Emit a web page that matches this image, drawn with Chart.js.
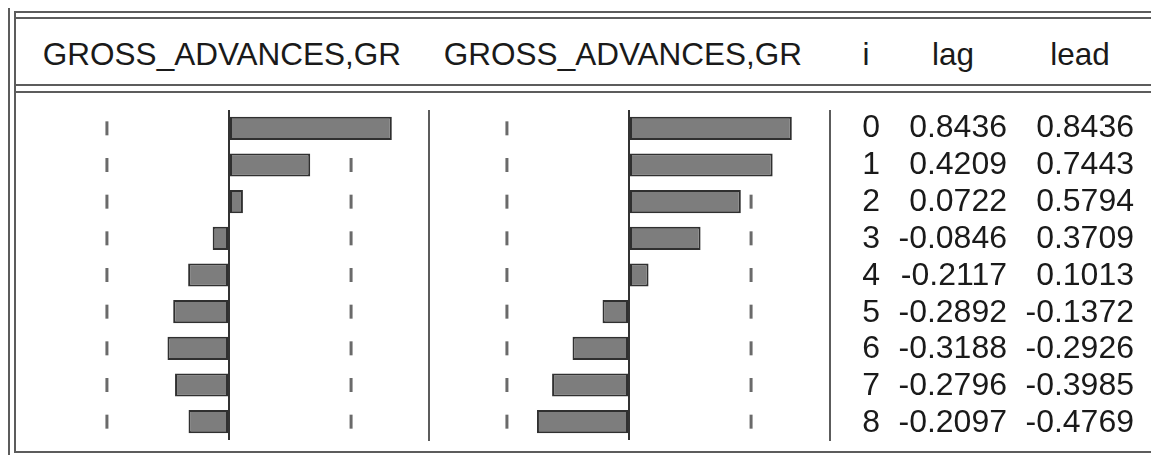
<!DOCTYPE html>
<html>
<head>
<meta charset="utf-8">
<script src="https://cdn.jsdelivr.net/npm/chart.js@4"></script>
<style>
body { margin: 0; background: #fff; }
#wrap { position: relative; width: 1151px; height: 455px; overflow: hidden; background: #fff;
        font-family: "Liberation Sans", Arial, sans-serif; color: #1a1a1a; }
.ln { position: absolute; background: #5c5c5c; }
canvas { position: absolute; top: 0; }
.hd { position: absolute; top: 36px; font-size: 31.5px; line-height: 36px; white-space: nowrap; text-align: center; }
.col { position: absolute; top: 108px; width: 160px; font-size: 32px; line-height: 36.9px; text-align: right; white-space: nowrap; }
</style>
</head>
<body>
<div id="wrap">
  <!-- frame -->
  <div class="ln" style="left:8px;top:8px;width:2px;height:447px"></div>
  <div class="ln" style="left:14px;top:12px;width:2px;height:441px"></div>
  <div class="ln" style="left:14px;top:11px;width:1137px;height:2px"></div>
  <div class="ln" style="left:14px;top:17px;width:1137px;height:2px"></div>
  <div class="ln" style="left:14px;top:84px;width:1137px;height:2px"></div>
  <div class="ln" style="left:14px;top:91px;width:1137px;height:2px"></div>
  <div class="ln" style="left:14px;top:451px;width:1137px;height:2px"></div>
  <div class="ln" style="left:428px;top:110px;width:2px;height:331px"></div>
  <div class="ln" style="left:829px;top:110px;width:2px;height:331px"></div>

  <div class="hd" style="left:22px;width:400px">GROSS_ADVANCES,GR</div>
  <div class="hd" style="left:423px;width:400px">GROSS_ADVANCES,GR</div>
  <div class="hd" style="left:846px;width:40px">i</div>
  <div class="hd" style="left:903px;width:100px">lag</div>
  <div class="hd" style="left:1030px;width:100px">lead</div>

  <canvas id="lagChart" width="414" height="455" style="left:15px"></canvas>
  <canvas id="leadChart" width="401" height="455" style="left:429px"></canvas>

  <div class="col" id="colI" style="left:720px"></div>
  <div class="col" id="colLag" style="left:847px"></div>
  <div class="col" id="colLead" style="left:974px"></div>
</div>

<script>
const lags = ['0', '1', '2', '3', '4', '5', '6', '7', '8'];
const lagCorr = [0.8436, 0.4209, 0.0722, -0.0846, -0.2117, -0.2892, -0.3188, -0.2796, -0.2097];
const leadCorr = [0.8436, 0.7443, 0.5794, 0.3709, 0.1013, -0.1372, -0.2926, -0.3985, -0.4769];
const bound = 0.6325; // approx. 2/sqrt(T)

document.getElementById('colI').innerHTML = lags.join('<br>');
document.getElementById('colLag').innerHTML = lagCorr.map(v => v.toFixed(4)).join('<br>');
document.getElementById('colLead').innerHTML = leadCorr.map(v => v.toFixed(4)).join('<br>');

function panel(id, values, padLeft, padRight) {
  new Chart(document.getElementById(id), {
    type: 'bar',
    data: {
      labels: lags,
      datasets: [
        {
          type: 'line',
          indexAxis: 'y',
          data: lags.flatMap(l => [{ x: -bound, y: l }, { x: bound, y: l }]),
          showLine: false,
          pointStyle: 'line',
          rotation: 90,
          pointRadius: 7,
          pointHoverRadius: 0,
          pointBorderWidth: 3,
          pointBorderColor: '#6a6a6a',
          order: 2
        },
        {
          data: values,
          backgroundColor: '#7d7d7d',
          borderColor: '#303030',
          borderWidth: 2,
          borderSkipped: false,
          categoryPercentage: 1,
          barPercentage: 0.63,
          order: 1
        }
      ]
    },
    options: {
      indexAxis: 'y',
      responsive: false,
      animation: false,
      layout: { autoPadding: false, padding: { top: 110, bottom: 15, left: padLeft, right: padRight } },
      plugins: { legend: { display: false }, tooltip: { enabled: false } },
      scales: {
        x: {
          min: -1, max: 1,
          ticks: { display: false, stepSize: 0.5 },
          border: { display: false },
          grid: {
            drawTicks: false,
            lineWidth: 2,
            color: c => (c.tick && c.tick.value === 0) ? '#333' : 'rgba(0,0,0,0)'
          }
        },
        y: { display: false }
      }
    }
  });
}

panel('lagChart', lagCorr, 21, 7);
panel('leadChart', leadCorr, 7, 8);
</script>
</body>
</html>
